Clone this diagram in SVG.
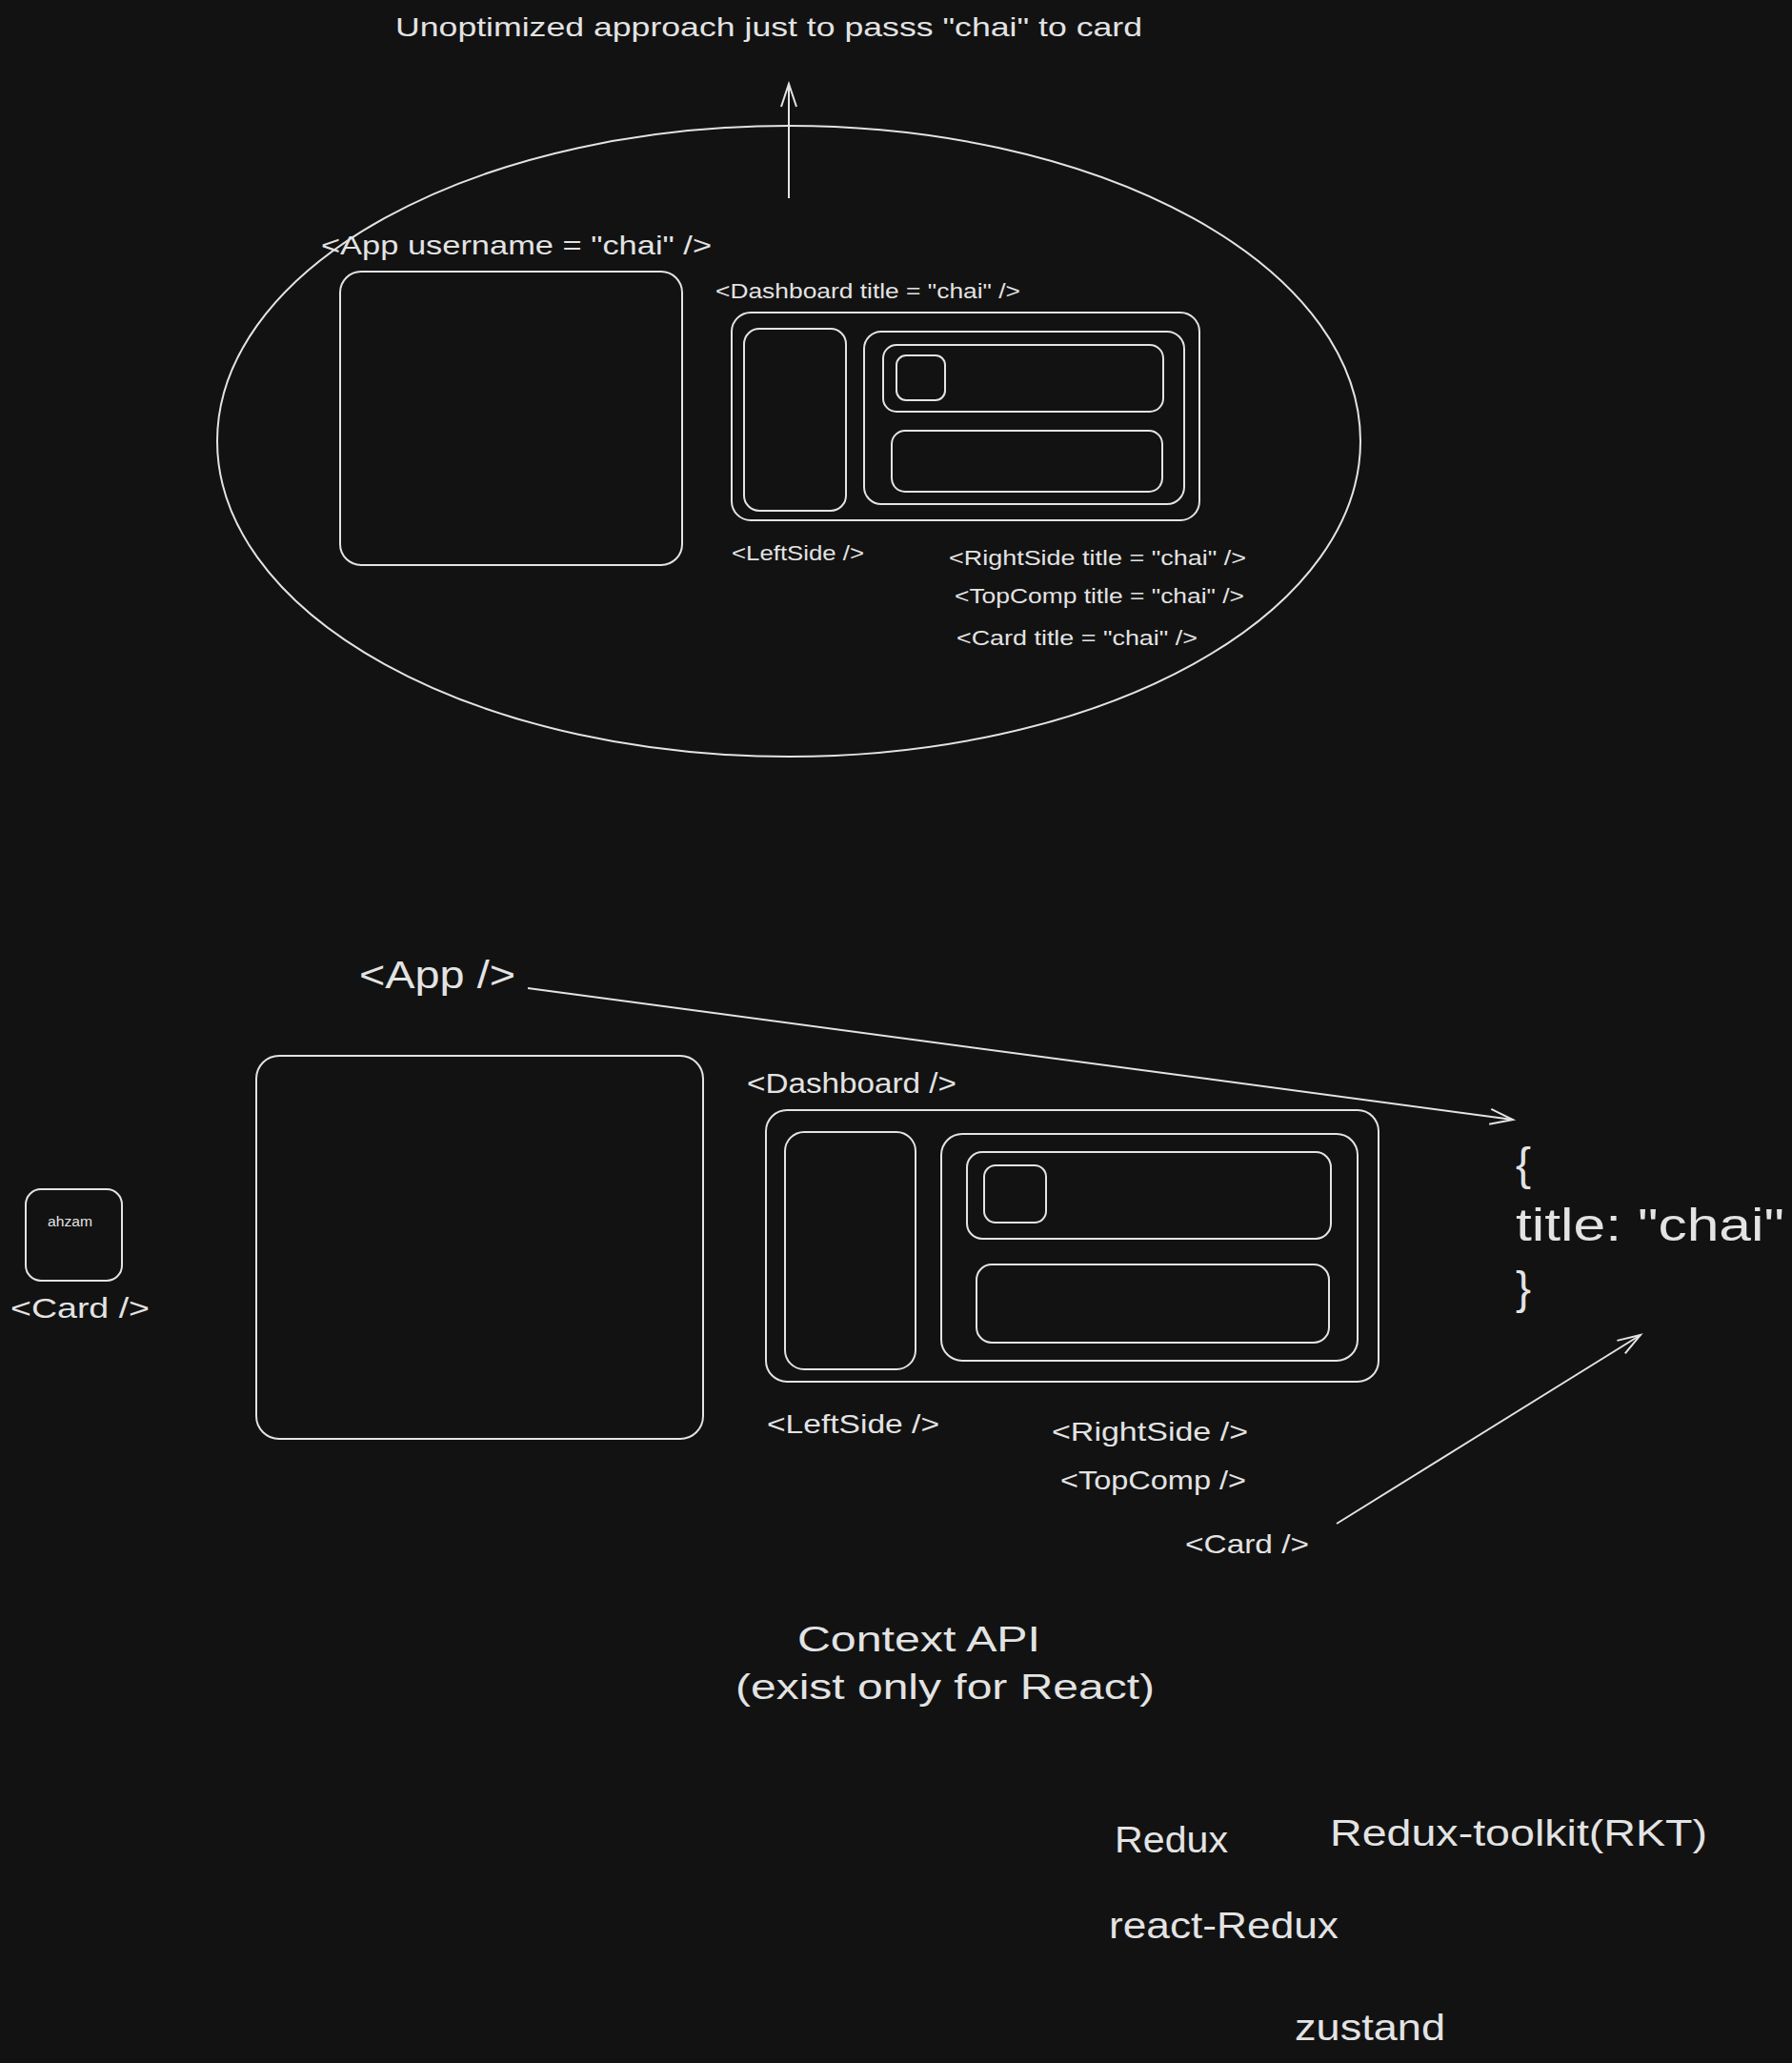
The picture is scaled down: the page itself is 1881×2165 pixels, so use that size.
<svg xmlns="http://www.w3.org/2000/svg" width="1881" height="2165" viewBox="0 0 1881 2165">
<defs>
<style>
.bg{fill:#121212}
.box{fill:none;stroke:#e3e3e3;stroke-width:2}
.ln{fill:none;stroke:#e3e3e3;stroke-width:2}
.t{fill:#e3e3e3;font-family:"Liberation Sans","Noto Sans",sans-serif}
</style>
<marker id="arr" markerWidth="30" markerHeight="24" refX="27" refY="12" orient="auto" markerUnits="userSpaceOnUse">
<path d="M3,4 L27,12 L3,20" fill="none" stroke="#e3e3e3" stroke-width="2"/>
</marker>
</defs>
<rect class="bg" x="0" y="0" width="1881" height="2165"/>

<g id="title"><text class="t" x="415" y="38" font-size="28" textLength="784" lengthAdjust="spacingAndGlyphs">Unoptimized approach just to passs "chai" to card</text></g>

<g id="top-ellipse"><ellipse class="box" cx="828" cy="463" rx="600" ry="331"/></g>

<g id="top-app">
<text class="t" x="337" y="267" font-size="28" textLength="410" lengthAdjust="spacingAndGlyphs">&lt;App username = "chai" /&gt;</text>
<rect class="box" x="357" y="285" width="359" height="308" rx="22"/>
</g>
<g id="top-dashboard">
<text class="t" x="751" y="313" font-size="22" textLength="320" lengthAdjust="spacingAndGlyphs">&lt;Dashboard title = "chai" /&gt;</text>
<rect class="box" x="768" y="328" width="491" height="218" rx="20"/>
</g>
<g id="top-leftside">
<rect class="box" x="781" y="345" width="107" height="191" rx="16"/>
<text class="t" x="768" y="588" font-size="22" textLength="139" lengthAdjust="spacingAndGlyphs">&lt;LeftSide /&gt;</text>
</g>
<g id="top-rightside">
<rect class="box" x="907" y="348" width="336" height="181" rx="18"/>
<text class="t" x="996" y="593" font-size="22" textLength="312" lengthAdjust="spacingAndGlyphs">&lt;RightSide title = "chai" /&gt;</text>
</g>
<g id="top-topcomp">
<rect class="box" x="927" y="362" width="294" height="70" rx="14"/>
<text class="t" x="1002" y="633" font-size="22" textLength="304" lengthAdjust="spacingAndGlyphs">&lt;TopComp title = "chai" /&gt;</text>
</g>
<g id="top-card">
<rect class="box" x="941" y="373" width="51" height="47" rx="10"/>
<text class="t" x="1004" y="677" font-size="22" textLength="253" lengthAdjust="spacingAndGlyphs">&lt;Card title = "chai" /&gt;</text>
</g>
<g id="top-bottom"><rect class="box" x="936" y="452" width="284" height="64" rx="14"/></g>

<g id="low-app">
<text class="t" x="377" y="1037" font-size="40" textLength="164" lengthAdjust="spacingAndGlyphs">&lt;App /&gt;</text>
<rect class="box" x="269" y="1108" width="469" height="402" rx="24"/>
</g>
<g id="low-dashboard">
<text class="t" x="784" y="1147" font-size="30" textLength="220" lengthAdjust="spacingAndGlyphs">&lt;Dashboard /&gt;</text>
<rect class="box" x="804" y="1165" width="643" height="285" rx="22"/>
</g>
<g id="low-leftside">
<rect class="box" x="824" y="1188" width="137" height="249" rx="20"/>
<text class="t" x="805" y="1504" font-size="28" textLength="181" lengthAdjust="spacingAndGlyphs">&lt;LeftSide /&gt;</text>
</g>
<g id="low-rightside">
<rect class="box" x="988" y="1190" width="437" height="238" rx="22"/>
<text class="t" x="1104" y="1512" font-size="28" textLength="206" lengthAdjust="spacingAndGlyphs">&lt;RightSide /&gt;</text>
</g>
<g id="low-topcomp">
<rect class="box" x="1015" y="1209" width="382" height="91" rx="16"/>
<text class="t" x="1113" y="1563" font-size="28" textLength="195" lengthAdjust="spacingAndGlyphs">&lt;TopComp /&gt;</text>
</g>
<g id="low-card">
<rect class="box" x="1033" y="1223" width="65" height="60" rx="12"/>
<text class="t" x="1244" y="1630" font-size="28" textLength="130" lengthAdjust="spacingAndGlyphs">&lt;Card /&gt;</text>
</g>
<g id="low-bottom"><rect class="box" x="1025" y="1327" width="370" height="82" rx="16"/></g>

<g id="side-card">
<rect class="box" x="27" y="1248" width="101" height="96" rx="16"/>
<text class="t" x="50" y="1287" font-size="14" textLength="47" lengthAdjust="spacingAndGlyphs">ahzam</text>
<text class="t" x="11" y="1383" font-size="30" textLength="146" lengthAdjust="spacingAndGlyphs">&lt;Card /&gt;</text>
</g>

<g id="context-object">
<text class="t" x="1591" y="1238" font-size="48">{</text>
<text class="t" x="1591" y="1302" font-size="48" textLength="282" lengthAdjust="spacingAndGlyphs">title: "chai"</text>
<text class="t" x="1591" y="1368" font-size="48">}</text>
</g>

<g id="context-label">
<text class="t" x="837" y="1733" font-size="36" textLength="255" lengthAdjust="spacingAndGlyphs">Context API</text>
<text class="t" x="772" y="1783" font-size="36" textLength="440" lengthAdjust="spacingAndGlyphs">(exist only for React)</text>
</g>

<g id="libs">
<text class="t" x="1170" y="1944" font-size="38" textLength="119" lengthAdjust="spacingAndGlyphs">Redux</text>
<text class="t" x="1396" y="1937" font-size="38" textLength="396" lengthAdjust="spacingAndGlyphs">Redux-toolkit(RKT)</text>
<text class="t" x="1164" y="2034" font-size="38" textLength="241" lengthAdjust="spacingAndGlyphs">react-Redux</text>
<text class="t" x="1359" y="2141" font-size="38" textLength="158" lengthAdjust="spacingAndGlyphs">zustand</text>
</g>

<g id="connectors">
<line class="ln" x1="828" y1="208" x2="828" y2="88" marker-end="url(#arr)"/>
<line class="ln" x1="554" y1="1037" x2="1588" y2="1175" marker-end="url(#arr)"/>
<line class="ln" x1="1403" y1="1599" x2="1722" y2="1401" marker-end="url(#arr)"/>
</g>
</svg>
